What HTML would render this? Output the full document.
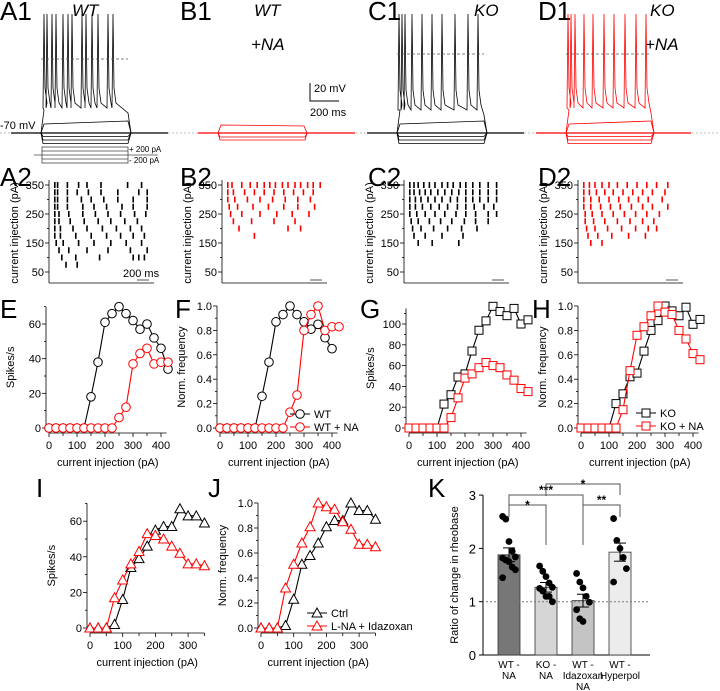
<!DOCTYPE html>
<html><head><meta charset="utf-8"><style>
body{margin:0;background:#fff;}
svg{display:block;font-family:"Liberation Sans",sans-serif;}
</style></head><body>
<svg id="fig" width="720" height="691" viewBox="0 0 720 691" xmlns="http://www.w3.org/2000/svg">
<g font-size="26" fill="#000">
<text x="0" y="20">A1</text>
<text x="180" y="20">B1</text>
<text x="368" y="20">C1</text>
<text x="538" y="20">D1</text>
<text x="0" y="186">A2</text>
<text x="180" y="186">B2</text>
<text x="368" y="186">C2</text>
<text x="538" y="186">D2</text>
<text x="0" y="318">E</text>
<text x="175" y="318">F</text>
<text x="360" y="318">G</text>
<text x="532" y="318">H</text>
<text x="36" y="497">I</text>
<text x="208" y="497">J</text>
<text x="428" y="497">K</text>
</g>
<g font-size="17" font-style="italic">
<text x="72" y="16">WT</text>
<text x="254" y="16">WT</text>
<text x="251" y="50">+NA</text>
<text x="474" y="16">KO</text>
<text x="650" y="16">KO</text>
<text x="645" y="50">+NA</text>
</g>
<line x1="0" y1="133" x2="720" y2="133" stroke="#aaa" stroke-width="0.8" stroke-dasharray="2,2"/>
<text x="0" y="129" font-size="11">-70 mV</text>
<g>
<polyline points="310,83 310,101 339,101" fill="none" stroke="#000" stroke-width="1"/>
<text x="314" y="92" font-size="11">20 mV</text>
<text x="310" y="116" font-size="11">200 ms</text>
</g>
<g stroke="#444" stroke-width="0.8" fill="none">
<line x1="34" y1="155" x2="158" y2="155"/>
<rect x="42" y="147" width="86" height="16"/>
<line x1="42" y1="151" x2="128" y2="151"/>
<line x1="42" y1="159" x2="128" y2="159"/>
</g>
<text x="129" y="152" font-size="8">+ 200 pA</text>
<text x="129" y="163" font-size="8">- 200 pA</text>
<g id="traces"></g>
<g id="rasters"></g>
<g id="plots"></g>
<g id="kplot"></g>
</svg>
<script>
// ---------- data ----------
const currents25 = [0,25,50,75,100,125,150,175,200,225,250,275,300,325,350,375,400,425];
const eWT = [0,0,0,0,0,0,18,38,61,66,70,66,62,57,60,52,46,34];
const eWTNA = [0,0,0,0,0,0,0,0,0,0,6,12,37,43,46,37,38,38];
const fWT = [0,0,0,0,0,0,0.26,0.54,0.87,0.93,1.0,0.93,0.87,0.81,0.85,0.74,0.65];
const fWTNA = [0,0,0,0,0,0,0,0,0,0,0.13,0.27,0.80,0.93,1.0,0.80,0.83,0.83];
const gKO = [0,0,0,0,0,23,32,49,52,74,94,103,117,112,108,115,100,104];
const gKONA = [0,0,0,0,0,0,10,29,48,52,58,63,60,58,51,46,38,35];
const hKO = [0,0,0,0,0,0.20,0.28,0.42,0.45,0.63,0.80,0.88,1.0,0.96,0.92,0.99,0.85,0.89];
const hKONA = [0,0,0,0,0,0,0.15,0.47,0.76,0.83,0.92,1.0,0.95,0.93,0.80,0.73,0.61,0.56];
const currentsIJ = [0,25,50,75,100,125,150,175,200,225,250,275,300,325,350];
const iCtrl = [0,0,0,2,16,34,39,46,55,57,57,67,63,63,59];
const iLNA = [0,0,0,17,27,36,43,53,52,50,46,42,36,36,35];
const jCtrl = [0,0,0,0.02,0.23,0.51,0.58,0.68,0.81,0.86,0.86,1.0,0.94,0.94,0.87];
const jLNA = [0,0,0,0.32,0.51,0.68,0.81,1.0,0.97,0.95,0.85,0.79,0.67,0.67,0.65];
const xTicks = [0,100,200,300,400];
const xTicksIJ = [0,100,200,300];
const kCategories = [["WT -","NA"],["KO -","NA"],["WT -","Idazoxan","NA"],["WT -","Hyperpol"]];
const kMeans = [1.88,1.27,1.02,1.93];
const kSem = [0.13,0.09,0.12,0.17];
const kPoints = [
 [2.6,2.55,2.13,1.95,1.84,1.82,1.78,1.75,1.65,1.6,1.45],
 [1.67,1.57,1.47,1.35,1.27,1.25,1.2,1.1,1.1,1.0],
 [1.53,1.37,1.26,1.1,0.99,0.85,0.68,0.63],
 [2.56,2.15,2.0,1.83,1.62,1.37]];
const kFill = ["#777","#d6d6d6","#c4c4c4","#ececec"];
// raster spike times (ms, 0-660) per row, top row = 350 pA
const rasterA = [[0,20,90,170,230,330,520,620],[0,20,90,160,240,330,450,600,660],[0,20,90,190,260,350,450,560,660],[0,20,90,200,280,370,480,560,660],[0,30,100,200,290,380,470,570,650],[0,30,110,210,310,400,500,590],[0,40,130,230,340,440,540,620],[0,40,150,260,370,470,560,640],[10,60,170,280,400,510,620],[30,100,230,380,540,660],[50,150,320,560,600,640],[80,160]];
const rasterB = [[0,30,100,160,210,260,300,340,390,430,480,520,570,610,660],[0,40,120,190,260,330,400,470,540,610],[0,50,140,230,320,410,500,590],[10,70,180,290,400,500,620],[20,100,230,350,460,580],[40,170,330,480],[80,430,520],[190]];
const rasterC = [[0,30,60,100,140,180,230,270,310,360,400,450,500,560,620],[0,30,70,110,150,200,250,300,350,400,450,500,560,620],[0,40,80,130,180,230,290,340,400,450,500,560,620],[0,40,90,150,210,270,340,400,460,530,600],[0,50,110,180,250,330,400,470,560,620],[10,60,140,220,300,390,470,560],[20,80,170,270,370,480],[30,110,230,380],[60,160,350]];
const rasterD = [[0,40,80,130,180,240,310,380,450,520,600],[0,40,90,150,210,280,350,420,490,580],[0,50,110,180,250,320,390,460,560],[0,50,120,190,260,340,420,490,600],[10,60,130,210,290,370,450,540],[10,70,150,240,330,420,500],[20,80,170,270,370,460,520],[30,100,200,320,440],[50,130]];

const NS="http://www.w3.org/2000/svg";
function mk(tag, attrs, parent){const e=document.createElementNS(NS,tag);for(const k in attrs)e.setAttribute(k,attrs[k]);if(parent)parent.appendChild(e);return e;}
function txt(s,x,y,parent,extra){const t=mk('text',Object.assign({x:x,y:y,'font-size':11},extra||{}),parent);t.textContent=s;return t;}

// ---------- traces (illustrative) ----------
const tr=document.getElementById('traces');
function trace(x0,x1,color,spikeXs,plateau,dash,hypN){
  const g=mk('g',{},tr);
  
  
  mk('line',{x1:x0-30,y1:133,x2:x1+40,y2:133,stroke:color,'stroke-width':1.2},g);
  for(let i=1;i<=hypN;i++){
    mk('polyline',{points:`${x0},133 ${x0+2},${133+i*3.5} ${x1},${133+i*3.5} ${x1+3},133`,fill:'none',stroke:color,'stroke-width':0.8},g);
  }
  mk('polyline',{points:`${x0},133 ${x0+3},124 ${x1},121 ${x1+3},133`,fill:'none',stroke:color,'stroke-width':0.8},g);
  let p=`${x0},133 ${x0+3},110 `;
  spikeXs.forEach(sx=>{p+=`${sx-1},${plateau} ${sx},14 ${sx+1},${plateau-20} ${sx+3},${plateau-5} `;});
  p+=`${x1},${plateau+5} ${x1+3},133`;
  mk('polyline',{points:p,fill:'none',stroke:color,'stroke-width':0.8},g);
  mk('line',{x1:x0,y1:dash,x2:x1,y2:dash,stroke:'#555','stroke-width':0.8,'stroke-dasharray':'3,2'},g);
}
trace(41,128,'#000',[44,47,52,56,63,68,72,82,86,92,98,108,113],108,59,3);
trace(397,484,'#000',[399,402,405,412,422,432,442,455,468,478],110,54,3);
trace(566,651,'#f00',[568,571,575,584,593,604,614,625,636,646],108,54,3);
(function(){const g=mk('g',{},tr);


mk('line',{x1:198,y1:133,x2:355,y2:133,stroke:'#f00','stroke-width':1.2},g);
mk('polyline',{points:'218,133 221,125 304,126 307,133',fill:'none',stroke:'#f00','stroke-width':0.8},g);
mk('polyline',{points:'218,133 220,137 305,137 307,133',fill:'none',stroke:'#f00','stroke-width':0.8},g);
mk('polyline',{points:'218,133 220,140 305,140 307,133',fill:'none',stroke:'#f00','stroke-width':0.8},g);})();

// ---------- rasters ----------
const rs=document.getElementById('rasters');
function raster(ax,rows,color,name){
  const g=mk('g',{},rs);
  
  
  const yOf=v=>185+(350-v)*0.29;
  mk('line',{x1:ax,y1:180,x2:ax,y2:283,stroke:'#000','stroke-width':0.8},g);
  mk('line',{x1:ax,y1:283,x2:ax+105,y2:283,stroke:'#000','stroke-width':0.8},g);
  [50,150,250,350].forEach(v=>{mk('line',{x1:ax-4,y1:yOf(v),x2:ax,y2:yOf(v),stroke:'#000','stroke-width':0.8},g);txt(String(v),ax-5,yOf(v)+4,g,{'text-anchor':'end'});});
  [100,200,300].forEach(v=>mk('line',{x1:ax-2,y1:yOf(v),x2:ax,y2:yOf(v),stroke:'#000','stroke-width':0.8},g));
  txt('current injection (pA)',0,0,g,{'text-anchor':'middle',transform:`translate(${ax-31},233) rotate(-90)`});
  rows.forEach((row,i)=>{const y=yOf(350-25*i);row.forEach(ms=>{const x=ax+5+ms*0.14;
    const m=mk('rect',{x:x,y:y-3,width:1.6,height:6,fill:color},g);
    
    });});
  mk('line',{x1:ax+88,y1:280,x2:ax+100,y2:280,stroke:'#555','stroke-width':1},g);
}
raster(49,rasterA,'#000','raster-a2');
txt('200 ms',123,277,rs);
raster(222,rasterB,'#f00','raster-b2');
raster(404,rasterC,'#000','raster-c2');
raster(578,rasterD,'#f00','raster-d2');

// ---------- F-I plots ----------
const pl=document.getElementById('plots');
function marker(g,shape,x,y,color){
  let m;
  if(shape==='circle') m=mk('circle',{cx:x,cy:y,r:4.3,fill:'#fff',stroke:color,'stroke-width':1},g);
  else if(shape==='square') m=mk('rect',{x:x-4,y:y-4,width:8,height:8,fill:'#fff',stroke:color,'stroke-width':1},g);
  else m=mk('polygon',{points:`${x},${y-5} ${x-5},${y+4} ${x+5},${y+4}`,fill:'#fff',stroke:color,'stroke-width':1},g);
  return m;
}
function fiPlot(o){
  const g=mk('g',{},pl);
  
  
  const X=v=>o.x0+v*o.sx, Y=v=>o.y0-v*o.sy;
  const axL=o.x0-3, axB=o.y0+5;
  mk('line',{x1:axL,y1:Y(o.ymax),x2:axL,y2:o.y0,stroke:'#000','stroke-width':0.8},g);
  mk('line',{x1:o.x0,y1:axB,x2:X(o.xmax),y2:axB,stroke:'#000','stroke-width':0.8},g);
  o.yticks.forEach(v=>{mk('line',{x1:axL-4,y1:Y(v),x2:axL,y2:Y(v),stroke:'#000','stroke-width':0.8},g);txt(o.yfmt(v),axL-5,Y(v)+4,g,{'text-anchor':'end'});});
  o.yminor.forEach(v=>mk('line',{x1:axL-2,y1:Y(v),x2:axL,y2:Y(v),stroke:'#000','stroke-width':0.8},g));
  for(let v=0;v<=o.xmax;v+=50){mk('line',{x1:X(v),y1:axB,x2:X(v),y2:axB+(v%100===0?4:3),stroke:'#000','stroke-width':0.8},g);}
  o.xticks.forEach(v=>txt(String(v),X(v),axB+16,g,{'text-anchor':'middle'}));
  txt('current injection (pA)',o.x0+o.xmax*o.sx/2,axB+33,g,{'text-anchor':'middle'});
  txt(o.ylabel,0,0,g,{'text-anchor':'middle',transform:`translate(${axL-32},${(Y(o.ymax)+o.y0)/2}) rotate(-90)`});
  o.series.forEach(s=>{
    const pts=s.vals.map((v,i)=>X(o.cats[i])+','+Y(v)).join(' ');
    const ln=mk('polyline',{points:pts,fill:'none',stroke:s.color,'stroke-width':1.1},g);
    
    
    s.vals.forEach((v,i)=>{const m=marker(g,o.shape,X(o.cats[i]),Y(v),s.color);
      
      });
  });
  if(o.legend){o.series.forEach((s,i)=>{const ly=o.legend[1]+i*13;
    const lg=mk('g',{},g);
    
    
    mk('line',{x1:o.legend[0],y1:ly,x2:o.legend[0]+20,y2:ly,stroke:s.color,'stroke-width':1.1},lg);
    marker(lg,o.shape,o.legend[0]+10,ly,s.color);
    txt(s.label,o.legend[0]+24,ly+4,lg);});}
}
const k02=[0.1,0.3,0.5,0.7,0.9];
fiPlot({name:'plot-e',x0:49,y0:428,sx:0.28,sy:1.733,xmax:420,ymax:70,cats:currents25,xticks:xTicks,yticks:[0,20,40,60],yminor:[10,30,50,70],yfmt:v=>String(v),ylabel:'Spikes/s',shape:'circle',
 series:[{name:'wt',color:'#000',vals:eWT,label:'WT'},{name:'wt-na',color:'#f00',vals:eWTNA,label:'WT + NA'}]});
fiPlot({name:'plot-f',x0:220,y0:428,sx:0.28,sy:122,xmax:420,ymax:1.0,cats:currents25,xticks:xTicks,yticks:[0,0.2,0.4,0.6,0.8,1.0],yminor:k02,yfmt:v=>v.toFixed(1),ylabel:'Norm. frequency',shape:'circle',legend:[290,414],
 series:[{name:'wt',color:'#000',vals:fWT,label:'WT'},{name:'wt-na',color:'#f00',vals:fWTNA,label:'WT + NA'}]});
fiPlot({name:'plot-g',x0:409,y0:428,sx:0.28,sy:1.04,xmax:420,ymax:115,cats:currents25,xticks:xTicks,yticks:[0,20,40,60,80,100],yminor:[10,30,50,70,90,110],yfmt:v=>String(v),ylabel:'Spikes/s',shape:'square',
 series:[{name:'ko',color:'#000',vals:gKO,label:'KO'},{name:'ko-na',color:'#f00',vals:gKONA,label:'KO + NA'}]});
fiPlot({name:'plot-h',x0:581,y0:428,sx:0.28,sy:122,xmax:420,ymax:1.0,cats:currents25,xticks:xTicks,yticks:[0,0.2,0.4,0.6,0.8,1.0],yminor:k02,yfmt:v=>v.toFixed(1),ylabel:'Norm. frequency',shape:'square',legend:[636,413],
 series:[{name:'ko',color:'#000',vals:hKO,label:'KO'},{name:'ko-na',color:'#f00',vals:hKONA,label:'KO + NA'}]});
fiPlot({name:'plot-i',x0:90,y0:628,sx:0.327,sy:1.78,xmax:350,ymax:70,cats:currentsIJ,xticks:xTicksIJ,yticks:[0,20,40,60],yminor:[10,30,50,70],yfmt:v=>String(v),ylabel:'Spikes/s',shape:'triangle',
 series:[{name:'ctrl',color:'#000',vals:iCtrl,label:'Ctrl'},{name:'lna-idazoxan',color:'#f00',vals:iLNA,label:'L-NA + Idazoxan'}]});
fiPlot({name:'plot-j',x0:261,y0:628,sx:0.327,sy:125,xmax:350,ymax:1.0,cats:currentsIJ,xticks:xTicksIJ,yticks:[0,0.2,0.4,0.6,0.8,1.0],yminor:k02,yfmt:v=>v.toFixed(1),ylabel:'Norm. frequency',shape:'triangle',legend:[307,613],
 series:[{name:'ctrl',color:'#000',vals:jCtrl,label:'Ctrl'},{name:'lna-idazoxan',color:'#f00',vals:jLNA,label:'L-NA + Idazoxan'}]});

// ---------- K bar chart ----------
const kg=document.getElementById('kplot');
const KY=v=>655-v*53.3, KX=i=>509+i*37;
mk('line',{x1:483,y1:KY(3),x2:483,y2:655,stroke:'#000','stroke-width':1},kg);
mk('line',{x1:483,y1:655,x2:650,y2:655,stroke:'#000','stroke-width':1},kg);
[0,1,2,3].forEach(v=>{mk('line',{x1:479,y1:KY(v),x2:483,y2:KY(v),stroke:'#000'},kg);txt(String(v),476,KY(v)+5,kg,{'text-anchor':'end','font-size':13});});
txt('Ratio of change in rheobase',0,0,kg,{'text-anchor':'middle','font-size':11,transform:'translate(458,575) rotate(-90)'});
kMeans.forEach((m,i)=>{
  const b=mk('rect',{x:KX(i)-11,y:KY(m),width:22,height:655-KY(m),fill:kFill[i],stroke:'#333','stroke-width':0.8},kg);
  
  
});
mk('line',{x1:486,y1:KY(1),x2:650,y2:KY(1),stroke:'#777','stroke-width':1,'stroke-dasharray':'2,2'},kg);
kPoints.forEach((pts,i)=>pts.forEach((v,j)=>{const off=((j%5)-2)*3.2;
  const c=mk('circle',{cx:KX(i)+off,cy:KY(v),r:3.4,fill:'#000'},kg);
  
  }));
kMeans.forEach((m,i)=>{const s=kSem[i];
  mk('line',{x1:KX(i),y1:KY(m+s),x2:KX(i),y2:KY(m-s),stroke:'#000','stroke-width':1},kg);
  mk('line',{x1:KX(i)-6,y1:KY(m+s),x2:KX(i)+6,y2:KY(m+s),stroke:'#000','stroke-width':1},kg);
  mk('line',{x1:KX(i)-6,y1:KY(m-s),x2:KX(i)+6,y2:KY(m-s),stroke:'#000','stroke-width':1},kg);});
kCategories.forEach((lines,i)=>lines.forEach((l,j)=>txt(l,KX(i),668+j*11,kg,{'text-anchor':'middle','font-size':10})));
function bracket(i1,i2,y,d1,d2,label){
  const g=mk('g',{},kg);
  
  
  mk('polyline',{points:`${KX(i1)},${y+d1} ${KX(i1)},${y} ${KX(i2)},${y} ${KX(i2)},${y+d2}`,fill:'none',stroke:'#555','stroke-width':1},g);
  txt(label,(KX(i1)+KX(i2))/2,y+(label.length>1?-1:4),g,{'text-anchor':'middle','font-size':12,'font-weight':'bold'});
}
bracket(0,1,505,12,40,'*');
bracket(0,2,495,10,45,'***');
bracket(2,3,505,40,12,'**');
bracket(1,3,484,12,11,'*');
</script>
</body></html>
